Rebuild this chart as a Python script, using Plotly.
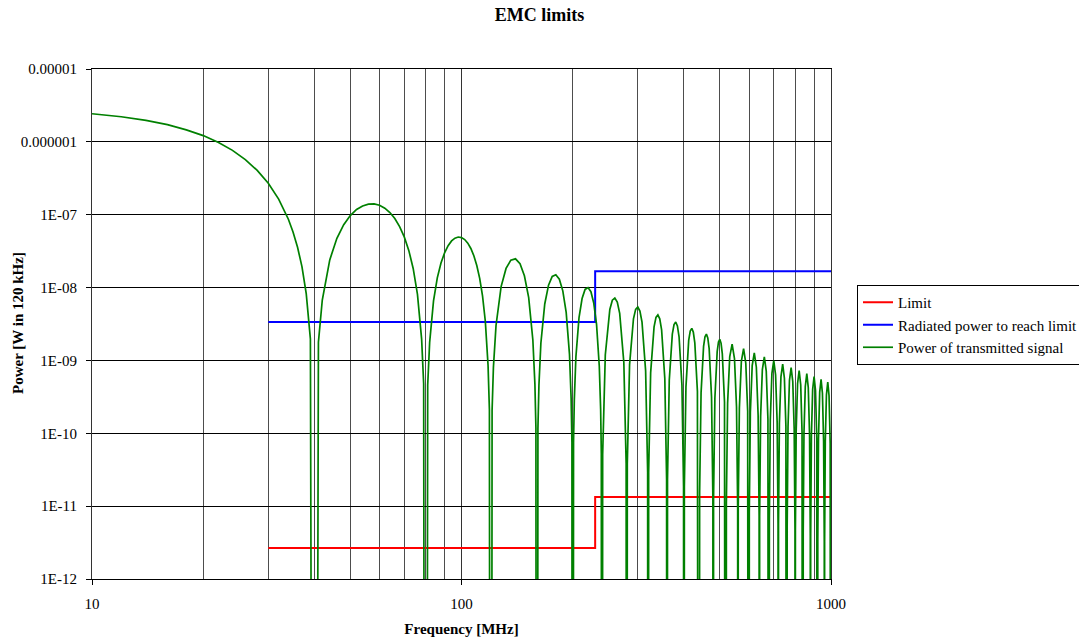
import plotly.graph_objects as go

# ---------------- data ----------------
# EMC limit steps (CISPR-like, 30-230 MHz and 230-1000 MHz)
limit_freq_mhz = [30, 230, 230, 1000]
limit_power_w = [2.66e-12, 2.66e-12, 1.33e-11, 1.33e-11]

radiated_freq_mhz = [30, 230, 230, 1000]
radiated_power_w = [3.36e-9, 3.36e-9, 1.68e-8, 1.68e-8]

# Power of transmitted signal: main lobe 10..40 MHz
# (nulls drop far below the visible range; 1e-30 marks "off the bottom")
main_freq_mhz = [10, 12, 14, 16, 18, 20, 22, 24, 26, 28, 30, 32, 34, 35, 36, 37, 38, 39, 40]
main_power_w = [2.43e-6, 2.21e-6, 1.97e-6, 1.72e-6, 1.46e-6, 1.22e-6, 9.80e-7, 7.64e-7,
                5.71e-7, 4.06e-7, 2.70e-7, 1.64e-7, 8.67e-8, 5.81e-8, 3.58e-8, 1.94e-8,
                8.24e-9, 1.97e-9, 1e-30]

# side lobes 40..240 MHz
wide_freq_mhz = [
    41, 42, 44, 46, 48, 50, 52, 54, 56, 58, 60, 62, 64, 66, 68, 70, 72, 74, 76, 78, 79, 80,
    81, 82, 84, 86, 88, 90, 92, 94, 96, 98, 100, 102, 104, 106, 108, 110, 112, 114, 116, 118, 119, 120,
    121, 122, 124, 128, 132, 136, 140, 144, 148, 152, 156, 158, 159, 160,
    161, 162, 164, 168, 172, 176, 180, 184, 188, 192, 196, 198, 199, 200,
    201, 202, 204, 208, 212, 216, 220, 224, 228, 232, 236, 238, 239, 240,
]
wide_power_w = [
    1.78e-9, 6.75e-9, 2.40e-8, 4.74e-8, 7.29e-8, 9.73e-8, 1.18e-7, 1.32e-7, 1.40e-7, 1.41e-7, 1.35e-7,
    1.23e-7, 1.07e-7, 8.87e-8, 6.88e-8, 4.96e-8, 3.24e-8, 1.83e-8, 8.04e-9, 1.96e-9, 4.80e-10, 1e-30,
    4.56e-10, 1.77e-9, 6.58e-9, 1.36e-8, 2.17e-8, 3.00e-8, 3.76e-8, 4.37e-8, 4.77e-8, 4.94e-8, 4.86e-8,
    4.56e-8, 4.07e-8, 3.44e-8, 2.73e-8, 2.01e-8, 1.34e-8, 7.71e-9, 3.45e-9, 8.55e-10, 2.11e-10, 1e-30,
    2.05e-10, 8.00e-10, 3.02e-9, 1.03e-8, 1.83e-8, 2.38e-8, 2.48e-8, 2.12e-8, 1.45e-8, 7.27e-9,
    1.91e-9, 4.77e-10, 1.18e-10, 1e-30,
    1.16e-10, 4.54e-10, 1.73e-9, 5.95e-9, 1.08e-8, 1.42e-8, 1.50e-8, 1.30e-8, 9.01e-9, 4.56e-9,
    1.21e-9, 3.04e-10, 7.56e-11, 1e-30,
    7.41e-11, 2.92e-10, 1.12e-9, 3.88e-9, 7.08e-9, 9.43e-9, 1.00e-8, 8.77e-9, 6.13e-9, 3.12e-9,
    8.34e-10, 2.10e-10, 5.24e-11, 1e-30,
]

# side lobes 240..520 MHz
mid_freq_mhz = [
    241, 245, 252, 256, 260, 264, 268, 275, 279, 280,
    281, 285, 292, 296, 300, 304, 308, 315, 319, 320,
    321, 325, 332, 336, 340, 344, 348, 355, 359, 360,
    361, 365, 372, 376, 380, 384, 388, 395, 399, 400,
    401, 405, 412, 416, 420, 424, 428, 435, 439, 440,
    441, 445, 452, 456, 460, 464, 468, 475, 479, 480,
    481, 485, 492, 496, 500, 504, 508, 515, 519, 520,
]
mid_power_w = [
    5.16e-11, 1.19e-9, 5.01e-9, 6.71e-9, 7.20e-9, 6.31e-9, 4.43e-9, 9.42e-10, 3.85e-11, 1e-30,
    3.79e-11, 8.77e-10, 3.73e-9, 5.02e-9, 5.40e-9, 4.76e-9, 3.36e-9, 7.18e-10, 2.94e-11, 1e-30,
    2.91e-11, 6.74e-10, 2.89e-9, 3.90e-9, 4.21e-9, 3.72e-9, 2.63e-9, 5.65e-10, 2.32e-11, 1e-30,
    2.30e-11, 5.35e-10, 2.30e-9, 3.11e-9, 3.37e-9, 2.98e-9, 2.11e-9, 4.57e-10, 1.88e-11, 1e-30,
    1.86e-11, 4.34e-10, 1.88e-9, 2.54e-9, 2.76e-9, 2.45e-9, 1.74e-9, 3.76e-10, 1.55e-11, 1e-30,
    1.54e-11, 3.60e-10, 1.56e-9, 2.12e-9, 2.30e-9, 2.04e-9, 1.45e-9, 3.16e-10, 1.31e-11, 1e-30,
    1.29e-11, 3.03e-10, 1.32e-9, 1.79e-9, 1.95e-9, 1.73e-9, 1.23e-9, 2.69e-10, 1.11e-11, 1e-30,
]

# side lobes 520..1000 MHz
high_freq_mhz = [
    521, 525, 532, 540, 548, 555, 559, 560,
    561, 565, 572, 580, 588, 595, 599, 600,
    601, 605, 612, 620, 628, 635, 639, 640,
    641, 645, 652, 660, 668, 675, 679, 680,
    681, 685, 692, 700, 708, 715, 719, 720,
    721, 725, 732, 740, 748, 755, 759, 760,
    761, 765, 772, 780, 788, 795, 799, 800,
    801, 805, 812, 820, 828, 835, 839, 840,
    841, 845, 852, 860, 868, 875, 879, 880,
    881, 885, 892, 900, 908, 915, 919, 920,
    921, 925, 932, 940, 948, 955, 959, 960,
    961, 965, 972, 980, 988, 995, 999, 1000,
]
high_power_w = [
    1.10e-11, 2.58e-10, 1.12e-9, 1.67e-9, 1.06e-9, 2.31e-10, 9.58e-12, 1e-30,
    9.51e-12, 2.23e-10, 9.73e-10, 1.45e-9, 9.21e-10, 2.01e-10, 8.35e-12, 1e-30,
    8.29e-12, 1.95e-10, 8.50e-10, 1.27e-9, 8.07e-10, 1.77e-10, 7.33e-12, 1e-30,
    7.29e-12, 1.71e-10, 7.49e-10, 1.12e-9, 7.13e-10, 1.56e-10, 6.49e-12, 1e-30,
    6.46e-12, 1.52e-10, 6.65e-10, 9.93e-10, 6.35e-10, 1.39e-10, 5.79e-12, 1e-30,
    5.76e-12, 1.36e-10, 5.94e-10, 8.88e-10, 5.69e-10, 1.25e-10, 5.20e-12, 1e-30,
    5.17e-12, 1.22e-10, 5.34e-10, 7.99e-10, 5.13e-10, 1.13e-10, 4.69e-12, 1e-30,
    4.67e-12, 1.10e-10, 4.83e-10, 7.23e-10, 4.64e-10, 1.02e-10, 4.25e-12, 1e-30,
    4.23e-12, 9.98e-11, 4.39e-10, 6.58e-10, 4.23e-10, 9.30e-11, 3.88e-12, 1e-30,
    3.86e-12, 9.09e-11, 4.00e-10, 6.00e-10, 3.86e-10, 8.51e-11, 3.55e-12, 1e-30,
    3.53e-12, 8.33e-11, 3.67e-10, 5.50e-10, 3.54e-10, 7.81e-11, 3.26e-12, 1e-30,
    3.24e-12, 7.65e-11, 3.37e-10, 5.06e-10, 3.26e-10, 7.20e-11, 3.00e-12, 1e-30,
]

x_tick_vals = [10, 100, 1000]
x_tick_text = ["10", "100", "1000"]
x_minor_vals = [20, 30, 40, 50, 60, 70, 80, 90, 200, 300, 400, 500, 600, 700, 800, 900]
y_tick_vals = [1e-12, 1e-11, 1e-10, 1e-9, 1e-8, 1e-7, 1e-6, 1e-5]
y_tick_text = ["1E-12", "1E-11", "1E-10", "1E-09", "1E-08", "1E-07", "0.000001", "0.00001"]

signal_freq_mhz = main_freq_mhz + wide_freq_mhz + mid_freq_mhz + high_freq_mhz
signal_power_w = main_power_w + wide_power_w + mid_power_w + high_power_w

# ---------------- figure ----------------
FONT = "Liberation Serif, Times New Roman, serif"

fig = go.Figure()
fig.add_trace(go.Scatter(x=limit_freq_mhz, y=limit_power_w, mode="lines", name="Limit",
                         line=dict(color="#FF0000", width=2)))
fig.add_trace(go.Scatter(x=radiated_freq_mhz, y=radiated_power_w, mode="lines",
                         name="Radiated power to reach limit",
                         line=dict(color="#0000FF", width=2)))
fig.add_trace(go.Scatter(x=signal_freq_mhz, y=signal_power_w, mode="lines",
                         name="Power of transmitted signal",
                         line=dict(color="#008000", width=1.7)))

fig.update_layout(
    width=1079, height=642,
    margin=dict(l=92, r=248, t=69, b=63, autoexpand=False),
    paper_bgcolor="white", plot_bgcolor="white",
    font=dict(family=FONT, size=15, color="black"),
    title=dict(text="<b>EMC limits</b>", x=0.5, xref="container", xanchor="center",
               y=1 - 15 / 642, yref="container", yanchor="middle",
               font=dict(family=FONT, size=18, color="black")),
    showlegend=True,
    legend=dict(x=857 / 1079, xref="container", xanchor="left",
                y=1 - 285 / 642, yref="container", yanchor="top",
                bordercolor="black", borderwidth=1, bgcolor="white",
                font=dict(family=FONT, size=15, color="black"),
                tracegroupgap=0),
    annotations=[dict(text="<b>Power [W in 120 kHz]</b>", textangle=-90,
                      xref="paper", x=(18 - 92) / 739, xanchor="center",
                      yref="paper", y=(579 - 323) / 510, yanchor="middle",
                      showarrow=False, font=dict(family=FONT, size=15, color="black"))],
)

fig.update_xaxes(
    type="log", range=[1, 3],
    tickvals=x_tick_vals, ticktext=x_tick_text,
    ticks="outside", ticklen=5, tickcolor="black", tickwidth=1,
    showline=True, linecolor="black", linewidth=1, mirror=True,
    showgrid=True, gridcolor="#333333", gridwidth=1, zeroline=False,
    minor=dict(tickvals=x_minor_vals, showgrid=True, gridcolor="#4d4d4d", gridwidth=1, ticks=""),
    ticklabelstandoff=6,
    title=dict(text="<b>Frequency [MHz]</b>", font=dict(family=FONT, size=15), standoff=12),
)
fig.update_yaxes(
    type="log", range=[-12, -5],
    tickvals=y_tick_vals, ticktext=y_tick_text,
    ticks="outside", ticklen=5, tickcolor="black", tickwidth=1,
    showline=True, linecolor="#333333", linewidth=1, mirror=True,
    showgrid=True, gridcolor="black", gridwidth=1, zeroline=False,
    ticklabelstandoff=6,
)

fig.write_html("out.html")
